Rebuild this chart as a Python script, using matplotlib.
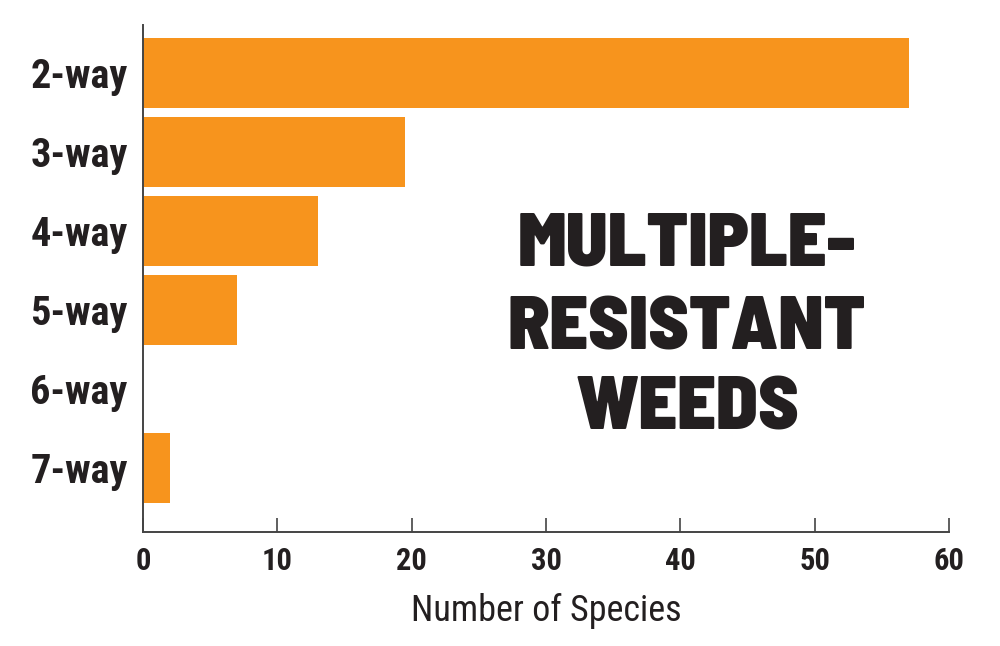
import matplotlib
matplotlib.use('Agg')
import matplotlib.pyplot as plt
import numpy as np

categories = ["2-way", "3-way", "4-way", "5-way", "6-way", "7-way"]
species = [57, 19.5, 13, 7, 0, 2]
x_ticks = [0, 10, 20, 30, 40, 50, 60]
title_lines = ["MULTIPLE-", "RESISTANT", "WEEDS"]

orange = "#F7941D"
ink = "#231F20"
cond = ["Roboto Condensed", "DejaVu Sans"]
poster = ["Barlow Semi Condensed", "Anton", "DejaVu Sans"]

fig = plt.figure(figsize=(10, 6.46), dpi=100)
ax = fig.add_axes([0.143, 1 - 532 / 646, 0.806, (532 - 25) / 646])

y = np.arange(len(categories))
ax.barh(y, species, height=0.886, color=orange, zorder=2)

ax.set_xlim(0, 60)
ax.set_ylim(5.81, -0.61)
ax.set_yticks(y)
ax.set_yticklabels(categories, family=cond, stretch="condensed",
                   fontweight="bold", fontsize=29, color=ink)
ax.set_yticks(y[:-1] + 0.5, minor=True)
ax.set_xticks(x_ticks)
ax.set_xticklabels([str(t) for t in x_ticks], family=cond, stretch="condensed",
                   fontweight="bold", fontsize=22, color=ink)

ax.tick_params(axis="y", which="major", length=0, pad=11)
ax.tick_params(axis="y", which="minor", direction="in", length=5,
               width=1.2, color="white")
ax.tick_params(axis="x", direction="in", length=10, width=1.2,
               color="#444444", pad=10)

for side in ("top", "right"):
    ax.spines[side].set_visible(False)
for side in ("left", "bottom"):
    ax.spines[side].set_color("#444444")
    ax.spines[side].set_linewidth(1.4)

ax.set_xlabel("Number of Species", family=cond, stretch="condensed",
              fontsize=26, color=ink, labelpad=12)

# title block, one line at a time (baselines in pixels from the top)
for line, base in zip(title_lines, [265, 350, 430]):
    fig.text(0.687, 1 - base / 646, line, ha="center", va="baseline",
             family=poster, fontweight=900, fontsize=55, color=ink)

fig.savefig("out.png", dpi=100, facecolor="white")
